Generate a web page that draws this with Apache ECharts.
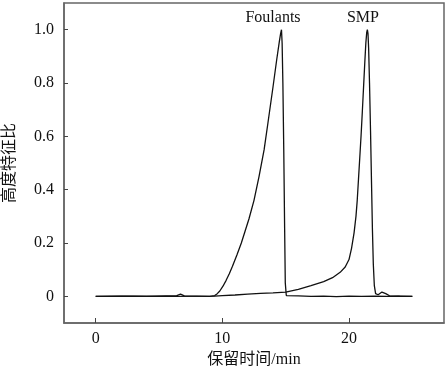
<!DOCTYPE html>
<html><head><meta charset="utf-8">
<script src="https://cdn.jsdelivr.net/npm/echarts@6/dist/echarts.min.js"></script>
<style>html,body{margin:0;padding:0;background:#fff}#c{width:448px;height:370px}</style>
</head><body><div id="c"></div>
<script>
const foulantsX = [0, 2, 4, 5.5, 6.4, 6.7, 7.0, 8, 9.0, 9.4, 9.6, 9.8, 10.05, 10.3, 10.55, 10.8, 11.15, 11.5, 11.8, 12.1, 12.5, 12.9, 13.3, 13.6, 14.0, 14.3, 14.5, 14.6, 14.67, 14.72, 14.78, 14.85, 14.92, 14.97, 15.05, 16, 17, 18, 19, 20, 21, 22, 23, 24, 25];
const foulantsY = [0, 0.001, 0, 0.002, 0.003, 0.008, 0.002, 0.001, 0, 0.003, 0.01, 0.02, 0.038, 0.06, 0.085, 0.113, 0.155, 0.2, 0.245, 0.29, 0.36, 0.45, 0.55, 0.65, 0.785, 0.89, 0.955, 0.985, 1.0, 0.95, 0.8, 0.55, 0.25, 0.05, 0.003, 0.002, 0, 0.001, -0.001, 0.001, 0, 0.001, 0, 0.001, 0];
const smpX = [0, 3, 6, 9.4, 10, 11, 12, 13, 14, 15, 16, 17, 18, 18.7, 19.3, 19.7, 20.0, 20.2, 20.4, 20.55, 20.65, 20.75, 20.85, 20.95, 21.05, 21.15, 21.25, 21.33, 21.4, 21.45, 21.5, 21.55, 21.62, 21.7, 21.78, 21.85, 21.92, 22.0, 22.1, 22.3, 22.6, 22.9, 23.2, 24, 25];
const smpY = [0, 0.001, 0, 0.001, 0.003, 0.005, 0.008, 0.011, 0.013, 0.016, 0.026, 0.04, 0.055, 0.07, 0.09, 0.11, 0.138, 0.18, 0.238, 0.3, 0.36, 0.44, 0.52, 0.6, 0.69, 0.785, 0.88, 0.95, 0.99, 1.0, 0.985, 0.93, 0.8, 0.62, 0.42, 0.25, 0.12, 0.04, 0.01, 0.006, 0.016, 0.01, 0.002, 0.001, 0];
const xTicks = [0, 10, 20];
const yTicks = [0, 0.2, 0.4, 0.6, 0.8, 1.0];
const peakLabels = [{name: 'Foulants', x: 14.0, y: 1.045}, {name: 'SMP', x: 21.1, y: 1.045}];

const pairs = (xs, ys) => xs.map((x, i) => [x, ys[i]]);
const serif = '"Liberation Serif", "Times New Roman", "Noto Sans CJK SC", serif';
const chart = echarts.init(document.getElementById('c'), null, {renderer: 'canvas'});
chart.setOption({
  animation: false,
  grid: {left: 64, right: 4, top: 3, bottom: 47, show: true, borderColor: '#666', borderWidth: 1.5, containLabel: false, outerBoundsMode: 'none'},
  xAxis: {
    type: 'value', min: -2.5, max: 27.5, interval: 2.5,
    name: '保留时间/min', nameLocation: 'middle', nameGap: 28,
    nameTextStyle: {fontFamily: serif, fontSize: 16, color: '#111'},
    axisLine: {show: true, onZero: false, lineStyle: {color: '#666', width: 1.5}},
    axisTick: {show: true, inside: true, length: 5, lineStyle: {color: '#444'}, customValues: xTicks},
    axisLabel: {fontFamily: serif, fontSize: 16, color: '#111', margin: 8, customValues: xTicks},
    splitLine: {show: false}
  },
  yAxis: {
    type: 'value', min: -0.1, max: 1.1, interval: 0.1,
    name: '高度特征比', nameLocation: 'middle', nameGap: 46, nameRotate: 90,
    nameTextStyle: {fontFamily: serif, fontSize: 16, color: '#111'},
    axisLine: {show: true, onZero: false, lineStyle: {color: '#666', width: 1.5}},
    axisTick: {show: true, inside: true, length: 4, lineStyle: {color: '#444'}, customValues: yTicks},
    axisLabel: {fontFamily: serif, fontSize: 16, color: '#111', margin: 10, customValues: yTicks,
      formatter: v => v === 0 ? '0' : v.toFixed(1)},
    splitLine: {show: false}
  },
  series: [
    {type: 'line', name: 'Foulants', data: pairs(foulantsX, foulantsY), showSymbol: false, smooth: false,
      lineStyle: {color: '#111', width: 1.3},
      markPoint: {symbol: 'circle', symbolSize: 0, data: peakLabels.map(p => ({coord: [p.x, p.y], value: p.name})),
        label: {show: true, position: 'inside', formatter: p => p.value, fontFamily: serif, fontSize: 16, color: '#111'}}},
    {type: 'line', name: 'SMP', data: pairs(smpX, smpY), showSymbol: false, smooth: false,
      lineStyle: {color: '#111', width: 1.3}}
  ]
});
</script></body></html>
